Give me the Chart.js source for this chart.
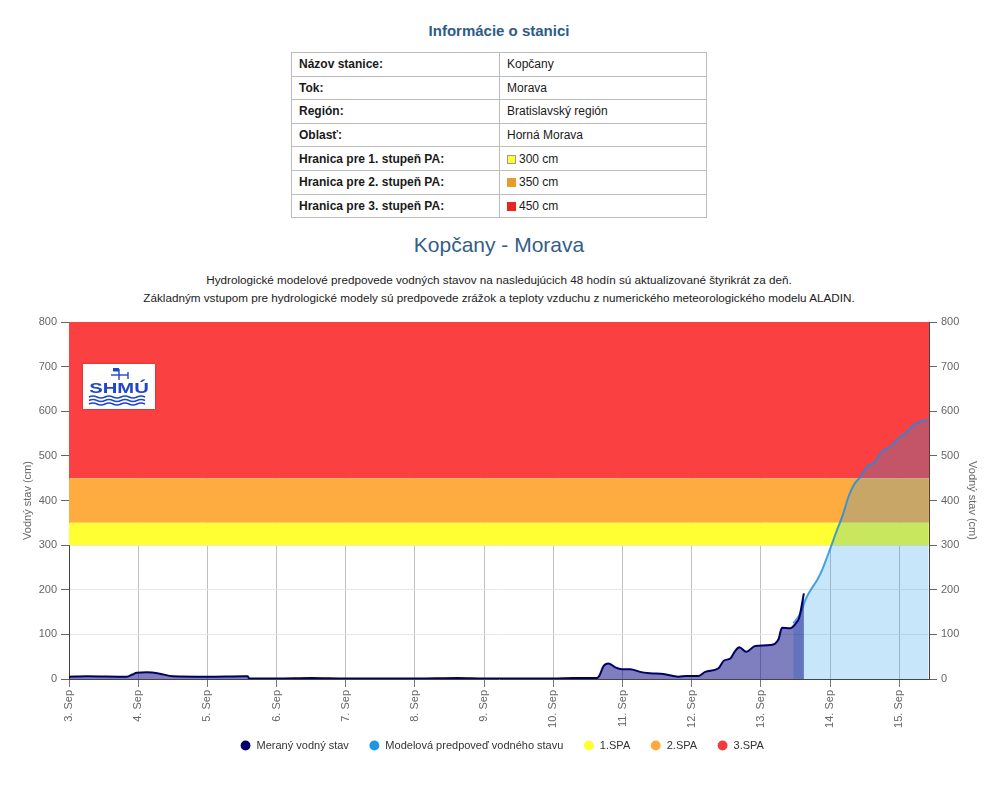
<!DOCTYPE html>
<html><head><meta charset="utf-8">
<script src="https://cdn.jsdelivr.net/npm/chart.js@4"></script>
<style>
html,body{margin:0;padding:0;background:#fff}
body{width:990px;height:786px;position:relative;overflow:hidden;font-family:"Liberation Sans",Arial,sans-serif}
#chart{position:absolute;left:0;top:0}
#info{position:absolute;top:22px;left:0;width:998px;text-align:center;font-size:15px;font-weight:bold;color:#2e5b8a}
#tbl{position:absolute;left:291px;top:52px;width:416px;border-collapse:collapse;font-size:12px;color:#1a1a1a}
#tbl td{border:1px solid #bdbdbd;height:23.6px;padding:0 0 0 7px;box-sizing:border-box}
#tbl td:first-child{font-weight:bold;width:208px}
.sq{display:inline-block;width:9px;height:9px;margin-right:3px;vertical-align:-1px;box-sizing:border-box}
#title{position:absolute;top:233px;left:0;width:998px;text-align:center;font-size:21px;color:#355d8a}
#sub{position:absolute;top:271px;left:0;width:998px;text-align:center;font-size:11.7px;line-height:18px;color:#222}
#logo{position:absolute;left:83px;top:364px;width:72px;height:45px;background:#fff;box-shadow:0 0 2px rgba(0,0,0,0.3);z-index:2}
#logo span{position:absolute;left:0;top:16px;width:72px;text-align:center;font-family:"Liberation Sans",Arial,sans-serif;font-weight:bold;font-size:15px;letter-spacing:0px;color:#1f46c8;line-height:15px;transform:scaleX(1.35);transform-origin:36px 0}
#logo svg{position:absolute;left:0;top:0}
</style>
</head><body>
<div id="info">Informácie o stanici</div>
<table id="tbl">
<tr><td>Názov stanice:</td><td>Kopčany</td></tr>
<tr><td>Tok:</td><td>Morava</td></tr>
<tr><td>Región:</td><td>Bratislavský región</td></tr>
<tr><td>Oblasť:</td><td>Horná Morava</td></tr>
<tr><td>Hranica pre 1. stupeň PA:</td><td><span class="sq" style="background:#ffff33;border:1px solid #999"></span>300 cm</td></tr>
<tr><td>Hranica pre 2. stupeň PA:</td><td><span class="sq" style="background:#e89a2c"></span>350 cm</td></tr>
<tr><td>Hranica pre 3. stupeň PA:</td><td><span class="sq" style="background:#e8261e"></span>450 cm</td></tr>
</table>
<div id="title">Kopčany - Morava</div>
<div id="sub">Hydrologické modelové predpovede vodných stavov na nasledujúcich 48 hodín sú aktualizované štyrikrát za deň.<br>Základným vstupom pre hydrologické modely sú predpovede zrážok a teploty vzduchu z numerického meteorologického modelu ALADIN.</div>
<div id="logo">
<svg width="72" height="45" viewBox="0 0 72 45">
<g stroke="#1f46c8" fill="none" stroke-width="1.4">
<line x1="36" y1="5" x2="36" y2="16"/><line x1="28" y1="11" x2="45" y2="11"/>
<rect x="30" y="4" width="6" height="3.5" fill="#1f46c8" stroke="none"/>
<line x1="45" y1="8" x2="45" y2="15"/>
<path d="M6 33 q4 -2 8 0 t8 0 t8 0 t8 0 t8 0 t8 0 t8 0"/>
<path d="M6 36.5 q4 -2 8 0 t8 0 t8 0 t8 0 t8 0 t8 0 t8 0"/>
<path d="M6 40 q4 -2 8 0 t8 0 t8 0 t8 0 t8 0 t8 0 t8 0"/>
</g></svg>
<span>SHMÚ</span>
</div>
<canvas id="chart" width="990" height="786"></canvas>
<script>
// ---- data (hours since 3. Sep 00:00) ----
const dayLabels = ['3. Sep','4. Sep','5. Sep','6. Sep','7. Sep','8. Sep','9. Sep','10. Sep','11. Sep','12. Sep','13. Sep','14. Sep','15. Sep'];
const measHours = [0,6,20,22,23.5,27,31.5,36,48,61,62,62.5,72,84,96,110,120,135,144,160,168,175,183,184,185.4,187.1,189.5,191.8,194.7,198.1,201.6,206.2,211.4,214.3,218.4,220.7,225.3,227.1,229.4,231.1,232.5,234.9,238,243.3,246.1,247.3,250.2,252.5,253.3,254.9];
const measValues = [5,6,5,10,14,15,12,6,5,6,6,1,1,2,1,1,1,2,1,1,1,2,2,8,29,35,26,22,22,16,13,11,5,7,7,16,24,41,46,63,71,61,74,76,89,115,114,128,138,192];
const modelHours = [251.2,253.7,255.4,257.2,259.5,261.2,263,264.7,266.4,268.2,270.4,272.2,274.5,276.8,279.7,281.4,284.9,287.8,290.1,292.4,295.3,298.2];
const modelValues = [125,147,177,199,222,244,274,304,334,364,409,435,453,476,487,506,521,540,551,566,577,581];
const thresholds = [300,350,450,800];   // 1.SPA, 2.SPA, 3.SPA bounds, top of axis
const xMin = 0, xMax = 298.3;
const yTicks = [0,100,200,300,400,500,600,700,800];

const zip = (xs, ys) => xs.map((x,i)=>({x, y: ys[i]}));
const band = (lo, hi) => [{x:xMin, y:hi},{x:xMax, y:hi}];

const legendColors = ['#000066','#1e96e6','#ffff33','#ffaa40','#f03c3c'];
const tickFont = {family:'"Liberation Sans", Arial, sans-serif', size:11};

// let rotated x labels extend below the axis box (no clipping)
const noLabelClip = {id:'noLabelClip', beforeDraw(chart){ chart.scales.x._computeLabelArea = () => undefined; }};

new Chart(document.getElementById('chart'), {
  type:'line',
  plugins:[noLabelClip],
  data:{datasets:[
    {label:'Meraný vodný stav', data:zip(measHours, measValues), borderColor:'#000066', borderWidth:2,
     backgroundColor:'rgba(0,0,128,0.5)', fill:'origin', pointRadius:0, cubicInterpolationMode:'monotone'},
    {label:'Modelová predpoveď vodného stavu', data:zip(modelHours, modelValues), borderColor:'rgba(28,140,228,0.8)', borderWidth:2,
     backgroundColor:'rgba(25,150,233,0.24)', fill:'origin', pointRadius:0, cubicInterpolationMode:'monotone'},
    {label:'1.SPA', data:band(thresholds[0], thresholds[1]), borderWidth:0, borderColor:'rgba(0,0,0,0)',
     backgroundColor:'rgb(255,255,51)', fill:{value:thresholds[0]}, pointRadius:0},
    {label:'2.SPA', data:band(thresholds[1], thresholds[2]), borderWidth:0, borderColor:'rgba(0,0,0,0)',
     backgroundColor:'rgb(254,171,64)', fill:{value:thresholds[1]}, pointRadius:0},
    {label:'3.SPA', data:band(thresholds[2], thresholds[3]), borderWidth:0, borderColor:'rgba(0,0,0,0)',
     backgroundColor:'rgb(250,64,64)', fill:{value:thresholds[2]}, pointRadius:0}
  ]},
  options:{
    responsive:false, animation:false, devicePixelRatio:1,
    layout:{padding:{top:322,left:14,right:0,bottom:25}},
    plugins:{
      tooltip:{enabled:false},
      legend:{position:'bottom',
        labels:{usePointStyle:true, pointStyle:'circle', boxHeight:7, padding:20, color:'#333',
          font:{family:'"Liberation Sans", Arial, sans-serif', size:11},
          generateLabels(chart){
            const items = Chart.defaults.plugins.legend.labels.generateLabels(chart);
            items.forEach(it=>{ it.fillStyle = legendColors[it.datasetIndex]; it.strokeStyle = legendColors[it.datasetIndex]; it.lineWidth = 0; it.pointStyle='circle'; });
            return items;
          }}}
    },
    scales:{
      x:{type:'linear', min:xMin, max:xMax, z:0,
        afterFit(s){ s.height = 41; },
        ticks:{stepSize:24, includeBounds:false, minRotation:90, maxRotation:90, autoSkip:false, color:'#666', font:tickFont, padding:3,
          callback:(v)=> dayLabels[Math.round(v/24)]},
        grid:{color:'#c0c0c0', tickColor:'#777', tickLength:8, drawOnChartArea:true},
        border:{display:true, color:'#444', width:1}},
      y:{position:'left', min:0, max:800, z:1,
        afterFit(s){ s.width = 55; },
        afterBuildTicks(s){ s.ticks = yTicks.map(v=>({value:v})); },
        ticks:{color:'#666', font:tickFont, padding:4},
        grid:{color:'rgba(228,228,228,0.85)', tickColor:'#666', tickLength:8},
        border:{display:true, color:'#444', width:1},
        title:{display:true, text:'Vodný stav (cm)', color:'#666', font:tickFont, padding:{top:7,bottom:0}}},
      y2:{position:'right', min:0, max:800, z:1,
        afterFit(s){ s.width = 61; },
        afterBuildTicks(s){ s.ticks = yTicks.map(v=>({value:v})); },
        ticks:{color:'#666', font:tickFont, padding:4},
        grid:{drawOnChartArea:false, tickColor:'#666', tickLength:8},
        border:{display:true, color:'#444', width:1},
        title:{display:true, text:'Vodný stav (cm)', color:'#666', font:tickFont, padding:{top:11,bottom:0}}}
    }
  }
});
</script>
</body></html>
